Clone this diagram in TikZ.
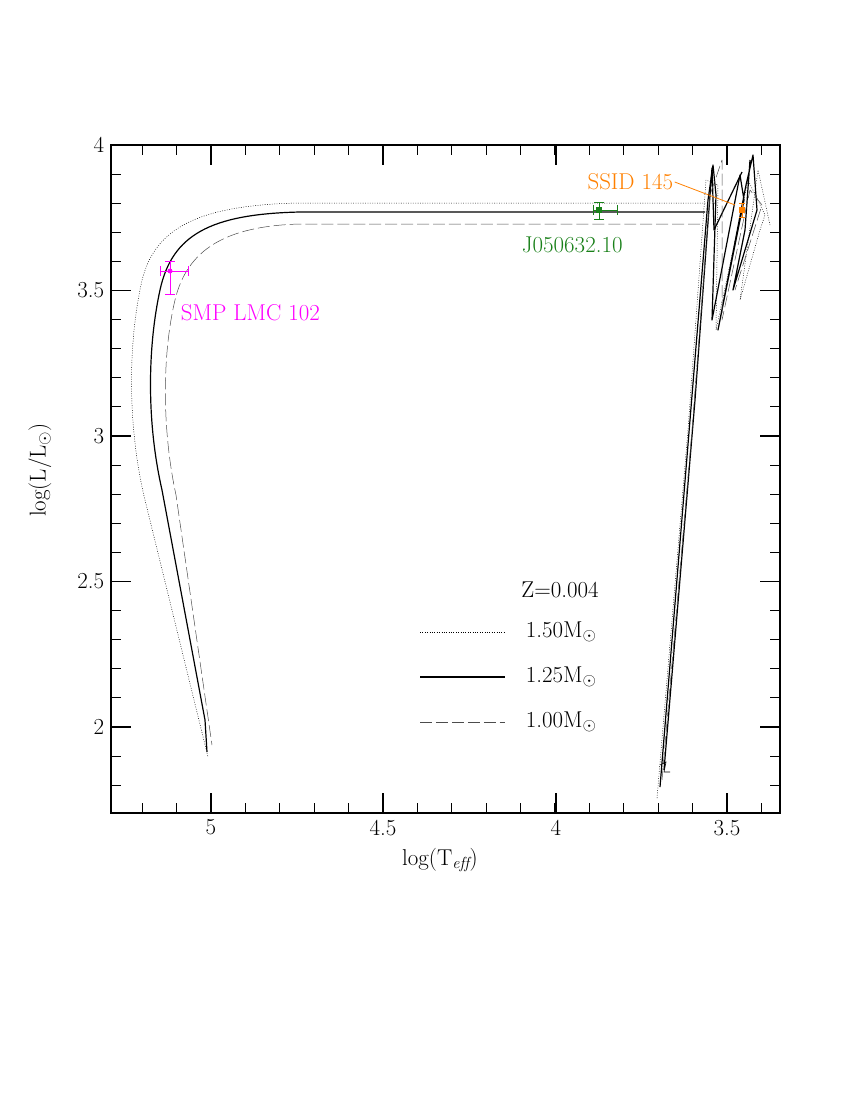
\documentclass[tikz,border=0pt]{standalone}
\usepackage{fontspec}
\definecolor{objmag}{rgb}{1,0,1}
\definecolor{objgreen}{rgb}{0.1,0.5,0.1}
\definecolor{objorange}{rgb}{1,0.5,0}
\begin{document}
\begin{tikzpicture}[x=1bp,y=-1bp,line width=1.1pt,
    lab/.style={font=\fontsize{23}{23}\selectfont},
    trk/.style={line width=1.2pt,line join=round},
    dotrk/.style={line width=0.5pt,dash pattern=on 0.8pt off 1.6pt,line join=round},
    dashtrk/.style={line width=0.5pt,dash pattern=on 12pt off 4pt,black!70,line join=round}]
    \useasboundingbox (0,0) rectangle (850,1100);
    % frame
    \draw (111,145) -- (780,145) -- (780,813) -- (111,813) -- cycle;
    \foreach \k in {-2,...,16}
      \draw (211+34.4*\k,813) -- ++ (0,-10)
        (211+34.4*\k,145) -- ++ (0,10);
    \foreach \x/\t in {211/5,383/4.5,556/4,727/3.5}
      \draw (\x,813) node[below=3pt,lab] {\t} -- ++ (0,-20)
        (\x,145) -- ++ (0,20);
    \foreach \k in {0,...,22}
      \draw (111,145+29.1*\k) -- ++ (10,0)
        (780,145+29.1*\k) -- ++ (-10,0);
    \foreach \y/\t in {145/4,290.5/3.5,436/3,581.5/2.5,727/2}
      \draw (111,\y) node[left=3pt,lab] {\t} -- ++ (20,0)
        (780,\y) -- ++ (-20,0);
    \node[lab] (xlab) at (440,860) {log(T$_{\mathit{eff}}$)};
    \node[lab,rotate=90] (ylab) at (40,470) {log(L/L$_\odot$)};
    % post-AGB tracks
    \draw[trk] (705,212) -- (300,212) .. controls (210,214) and (172,235) .. (160,290)
      .. controls (148,345) and (146,420) .. (162,490) -- (205,720) -- (207,752);
    \draw[dotrk] (715,203) -- (300,203) .. controls (190,205) and (150,232) .. (140,290)
      .. controls (128,350) and (128,430) .. (145,500) -- (208,757);
    \draw[dashtrk] (700,224) -- (300,224) .. controls (225,226) and (187,250) .. (175,300)
      .. controls (162,355) and (162,430) .. (176,495) -- (212,745);
    % red giant branches
    \draw[trk] (660,787) -- (690,420) -- (708,200) -- (713,165) -- (716,195)
      -- (712,320) -- (740,175) -- (744,200) -- (718,330) -- (746,185) -- (753,155)
      -- (757,210) -- (733,290) -- (745,230) -- (750,160);
    \draw[trk] (664,770) -- (695,400) -- (712,168) -- (714,230) -- (742,172);
    \draw[dotrk] (657,798) -- (688,430) -- (706,180) -- (718,185) -- (716,330)
      -- (748,180) -- (765,215) -- (760,230) -- (740,300) -- (758,170) -- (770,225);
    \draw[dashtrk] (662,780) -- (692,430) -- (710,195) -- (722,160) -- (722,320)
      -- (750,190) -- (762,205) -- (735,290);
    \draw[line width=0.6pt] (660,765) -- ++ (6,-3) -- ++ (-2,10) -- ++ (6,0);
    % observed objects
    \draw[objmag,line width=0.8pt] (160,271) -- (188,271) (160,266) -- ++ (0,10) (188,266) -- ++ (0,10)
      (170,261) -- (170,294) (165,261) -- ++ (10,0) (165,294) -- ++ (10,0);
    \fill[objmag] (170,271) circle (2.5pt);
    \node[lab,objmag,anchor=west] (smp) at (177,313) {SMP LMC 102};
    \draw[objgreen,line width=0.8pt] (593,210) -- (617,210) (593,205) -- ++ (0,10) (617,205) -- ++ (0,10)
      (599,202) -- (599,219) (594,202) -- ++ (10,0) (594,219) -- ++ (10,0);
    \fill[objgreen] (596,207) rectangle (602,213);
    \node[lab,objgreen,anchor=west] (jobj) at (518,245) {J050632.10};
    \draw[objorange,line width=0.8pt] (742,203) -- (742,217) (739,203) -- ++ (6,0) (739,217) -- ++ (6,0);
    \fill[objorange] (739,207) rectangle (745,213);
    \node[lab,objorange,anchor=west,inner sep=1pt] (ssid) at (586,182) {SSID 145};
    \coordinate (sstip) at (735,205);
    \draw[objorange,line width=0.8pt] (ssid.east) -- (sstip);
    % legend
    \node[lab] (zmet) at (560,590) {Z=0.004};
    \draw[dotrk] (420,632) -- (505,632);
    \node[lab,anchor=west] (m150) at (522,632) {1.50M$_\odot$};
    \draw[trk] (420,677) -- (505,677);
    \node[lab,anchor=west] (m125) at (522,677) {1.25M$_\odot$};
    \draw[dashtrk] (420,722) -- (505,722);
    \node[lab,anchor=west] (m100) at (522,722) {1.00M$_\odot$};
  \end{tikzpicture}
\end{document}
